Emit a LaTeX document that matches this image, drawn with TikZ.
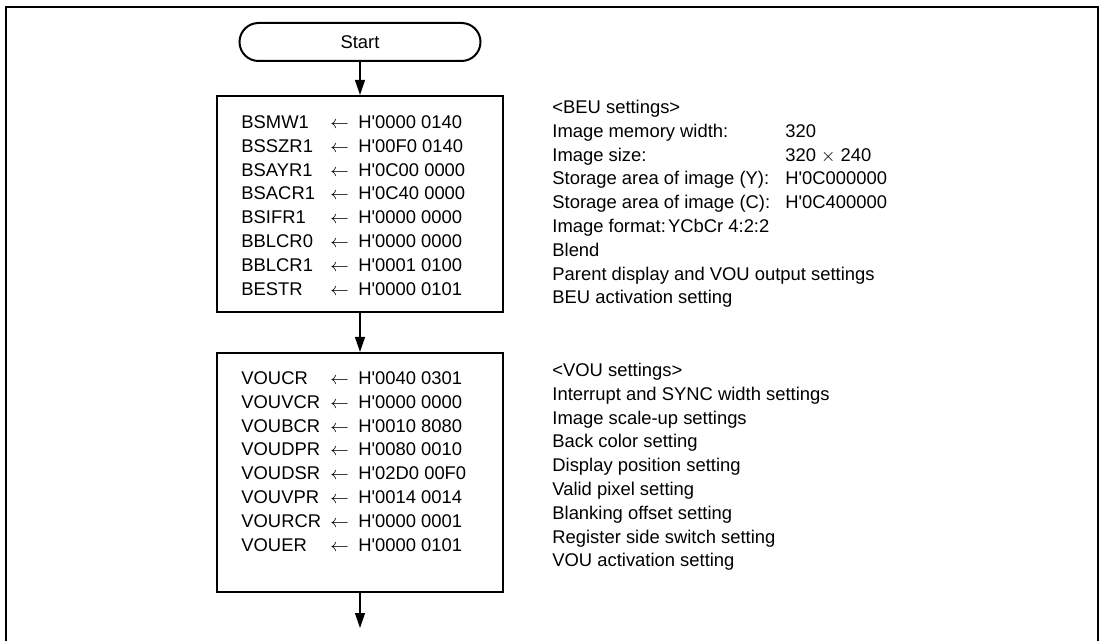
\documentclass[tikz,border=0pt]{standalone}
\usepackage{fontspec}
\setmainfont{Liberation Sans}[Ligatures=TeXOff]
\usetikzlibrary{arrows.meta}
\newcommand\regrow[2]{\makebox[44.5pt][l]{#1}\makebox[14pt][l]{$\leftarrow$}#2}
\newcommand\noterow[2]{\makebox[116.5pt][l]{#1}#2}
\begin{document}
\begin{tikzpicture}[x=0.5pt,y=-0.5pt,
  txt/.style={inner sep=0pt, anchor=base west, font=\fontsize{9.2}{11.9}\selectfont},
  box/.style={draw, line width=1.1pt, inner sep=0pt, minimum width=143pt},
  flow/.style={-{Triangle[width=5pt,length=7.5pt]}, line width=0.6pt}]
\useasboundingbox (0,0) rectangle (1102,641);
\draw[line width=1pt] (6,641) -- (6,7) -- (1098,7) -- (1098,641);
\node[draw, line width=1pt, rounded corners=9.5pt, minimum width=120.5pt,
      minimum height=19pt, inner sep=0pt, font=\fontsize{9.2}{11.9}\selectfont] (start) at (360,42) {Start};
\node[box, minimum height=108pt] (box1) at (360,204) {};
\node[box, minimum height=119.5pt] (box2) at (360,472.5) {};
\coordinate (end) at (360,628);
\draw[flow] (start.south) -- (box1.north);
\draw[flow] (box1.south) -- (box2.north);
\draw[flow] (box2.south) -- (end);
\node[txt] (beuregs) at (241,128.5) {\begin{tabular}[t]{@{}l@{}}
\regrow{BSMW1}{H'0000 0140}\\
\regrow{BSSZR1}{H'00F0 0140}\\
\regrow{BSAYR1}{H'0C00 0000}\\
\regrow{BSACR1}{H'0C40 0000}\\
\regrow{BSIFR1}{H'0000 0000}\\
\regrow{BBLCR0}{H'0000 0000}\\
\regrow{BBLCR1}{H'0001 0100}\\
\regrow{BESTR}{H'0000 0101}
\end{tabular}};
\node[txt] (beunotes) at (552,113.5) {\begin{tabular}[t]{@{}l@{}}
<BEU settings>\\
\noterow{Image memory width:}{320}\\
\noterow{Image size:}{320 $\times$ 240}\\
\noterow{Storage area of image (Y):}{H'0C000000}\\
\noterow{Storage area of image (C):}{H'0C400000}\\
Image format:\hspace{0.12em}YCbCr 4:2:2\\
Blend\\
Parent display and VOU output settings\\
BEU activation setting
\end{tabular}};
\node[txt] (vouregs) at (241,384.5) {\begin{tabular}[t]{@{}l@{}}
\regrow{VOUCR}{H'0040 0301}\\
\regrow{VOUVCR}{H'0000 0000}\\
\regrow{VOUBCR}{H'0010 8080}\\
\regrow{VOUDPR}{H'0080 0010}\\
\regrow{VOUDSR}{H'02D0 00F0}\\
\regrow{VOUVPR}{H'0014 0014}\\
\regrow{VOURCR}{H'0000 0001}\\
\regrow{VOUER}{H'0000 0101}
\end{tabular}};
\node[txt] (vounotes) at (552,376.5) {\begin{tabular}[t]{@{}l@{}}
<VOU settings>\\
Interrupt and SYNC width settings\\
Image scale-up settings\\
Back color setting\\
Display position setting\\
Valid pixel setting\\
Blanking offset setting\\
Register side switch setting\\
VOU activation setting
\end{tabular}};
\end{tikzpicture}
\end{document}
